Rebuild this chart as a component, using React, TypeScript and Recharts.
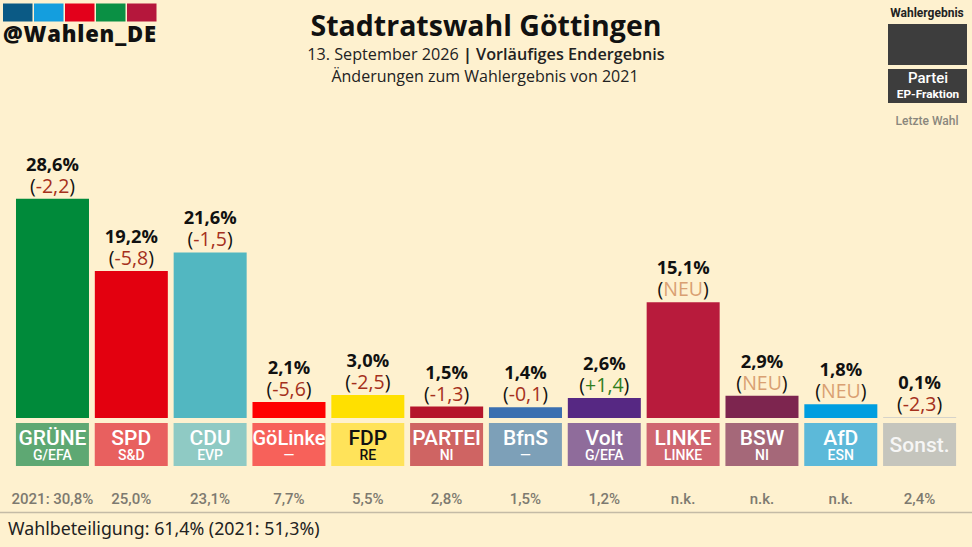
import React from "react";
import { BarChart, Bar, XAxis, YAxis, Cell, LabelList } from "recharts";

const parties = ["GRÜNE", "SPD", "CDU", "GöLinke", "FDP", "PARTEI", "BfnS", "Volt", "LINKE", "BSW", "AfD", "Sonst."];
const groups = ["G/EFA", "S&D", "EVP", "—", "RE", "NI", "—", "G/EFA", "LINKE", "NI", "ESN", ""];
const results = [28.6, 19.2, 21.6, 2.1, 3.0, 1.5, 1.4, 2.6, 15.1, 2.9, 1.8, 0.1];
const changes = ["-2,2", "-5,8", "-1,5", "-5,6", "-2,5", "-1,3", "-0,1", "+1,4", "NEU", "NEU", "NEU", "-2,3"];
const previous = ["2021: 30,8%", "25,0%", "23,1%", "7,7%", "5,5%", "2,8%", "1,5%", "1,2%", "n.k.", "n.k.", "n.k.", "2,4%"];
const barColors = ["#008a3a", "#e3000f", "#52b7c1", "#ff0000", "#ffe000", "#b5152b", "#3a6fb0", "#562883", "#b81b3c", "#7d254f", "#009ee0", "#c8c8c8"];
const boxColors = ["#5ea873", "#e8605f", "#8fcac4", "#f7615a", "#ffe35a", "#cf6463", "#7da0b8", "#8f6c9b", "#cf6670", "#a56879", "#5cb9d9", "#c5c5bd"];
const logoColors = ["#0b5a85", "#149ede", "#e3001b", "#0a9044", "#b5173c"];

const data = parties.map((party, i) => ({ party, value: results[i] }));
const BG = "#fef1cf";
const OS = "'Open Sans', sans-serif";
const RB = "Roboto, sans-serif";

function changeColor(c: string) {
  if (c === "NEU") return "#d9a072";
  if (c[0] === "+") return "#2f7d1c";
  return "#a5301c";
}

function PartyTick(props: any) {
  const { x, payload, index } = props;
  const i = index ?? payload.index;
  const top = 423;
  const w = 73;
  const dark = parties[i] === "FDP";
  const fg = dark ? "#111" : "#fff";
  const solo = !groups[i];
  return (
    <g>
      <rect x={x - w / 2} y={top} width={w} height={43} fill={boxColors[i]} />
      <text x={x} y={solo ? 452 : 445} textAnchor="middle" fontFamily={RB} fontWeight={500} fontSize={parties[i].length > 6 ? 20 : 21} fill={fg} opacity={solo ? 0.85 : 1}>
        {parties[i]}
      </text>
      {!solo && (
        <text x={x} y={460} textAnchor="middle" fontFamily={RB} fontWeight={500} fontSize={14} fill={fg}>
          {groups[i]}
        </text>
      )}
      <text x={x} y={504} textAnchor="middle" fontFamily={RB} fontWeight={500} fontSize={15} fill="#7d7a70">
        {previous[i]}
      </text>
    </g>
  );
}

function BarLabel(props: any) {
  const { x, y, width, index, value } = props;
  const cx = x + width / 2;
  const c = changes[index];
  return (
    <g textAnchor="middle" fontFamily={OS}>
      <text x={cx} y={y - 28} fontSize={18.3} fontWeight={700} fill="#111">
        {String(value.toFixed(1)).replace(".", ",")}%
      </text>
      <text x={cx} y={y - 6} fontSize={19.5} fill="#111">
        (<tspan fill={changeColor(c)}>{c}</tspan>)
      </text>
    </g>
  );
}

export default function App() {
  return (
    <div style={{ position: "absolute", left: 0, top: 0, width: 972, height: 547, background: BG, overflow: "hidden" }}>
      <BarChart width={972} height={547} data={data} margin={{ top: 100, right: 13, bottom: 0, left: 13 }} barCategoryGap="3.8%">
        <XAxis dataKey="party" height={129} interval={0} axisLine={false} tickLine={false} tick={<PartyTick />} />
        <YAxis hide domain={[0, 41.5]} />
        <Bar dataKey="value" isAnimationActive={false}>
          {data.map((d, i) => (
            <Cell key={d.party} fill={barColors[i]} />
          ))}
          <LabelList dataKey="value" content={<BarLabel />} />
        </Bar>
      </BarChart>
      <svg width={972} height={547} style={{ position: "absolute", left: 0, top: 0 }}>
        {logoColors.map((c, i) => (
          <rect key={c} x={3 + i * 31} y={3.5} width={29.5} height={18} fill={c} />
        ))}
        <text x={3} y={42} fontFamily="'Open Sans', sans-serif" fontWeight={800} fontSize={22} fill="#111" textLength={153}>@Wahlen_DE</text>
        <text x={486} y={36} textAnchor="middle" fontFamily={OS} fontWeight={700} fontSize={28.5} fill="#111">Stadtratswahl Göttingen</text>
        <text x={486} y={60} textAnchor="middle" fontFamily={OS} fontSize={16.2} fill="#222">
          13. September 2026 <tspan fontWeight={700}>| </tspan><tspan fontWeight={600}>Vorläufiges Endergebnis</tspan>
        </text>
        <text x={485} y={82} textAnchor="middle" fontFamily={OS} fontSize={16} fill="#222">Änderungen zum Wahlergebnis von 2021</text>
        <text x={927} y={17} textAnchor="middle" fontFamily={RB} fontWeight={700} fontSize={12} fill="#222">Wahlergebnis</text>
        <rect x={888} y={24} width={79} height={41} fill="#3d3d3d" />
        <rect x={888} y={69} width={79} height={34} fill="#3d3d3d" />
        <text x={928} y={83} textAnchor="middle" fontFamily={RB} fontWeight={500} fontSize={15} fill="#fff">Partei</text>
        <text x={928} y={98} textAnchor="middle" fontFamily={RB} fontWeight={700} fontSize={11.8} fill="#fff">EP-Fraktion</text>
        <text x={927} y={125} textAnchor="middle" fontFamily={RB} fontWeight={500} fontSize={12} fill="#8a877d">Letzte Wahl</text>
        <line x1={0} x2={972} y1={512.5} y2={512.5} stroke="#c4bba6" strokeWidth={1.5} />
        <text x={8} y={535} fontFamily="'Noto Sans', sans-serif" fontSize={17.8} fill="#222">Wahlbeteiligung: 61,4% (2021: 51,3%)</text>
      </svg>
    </div>
  );
}
